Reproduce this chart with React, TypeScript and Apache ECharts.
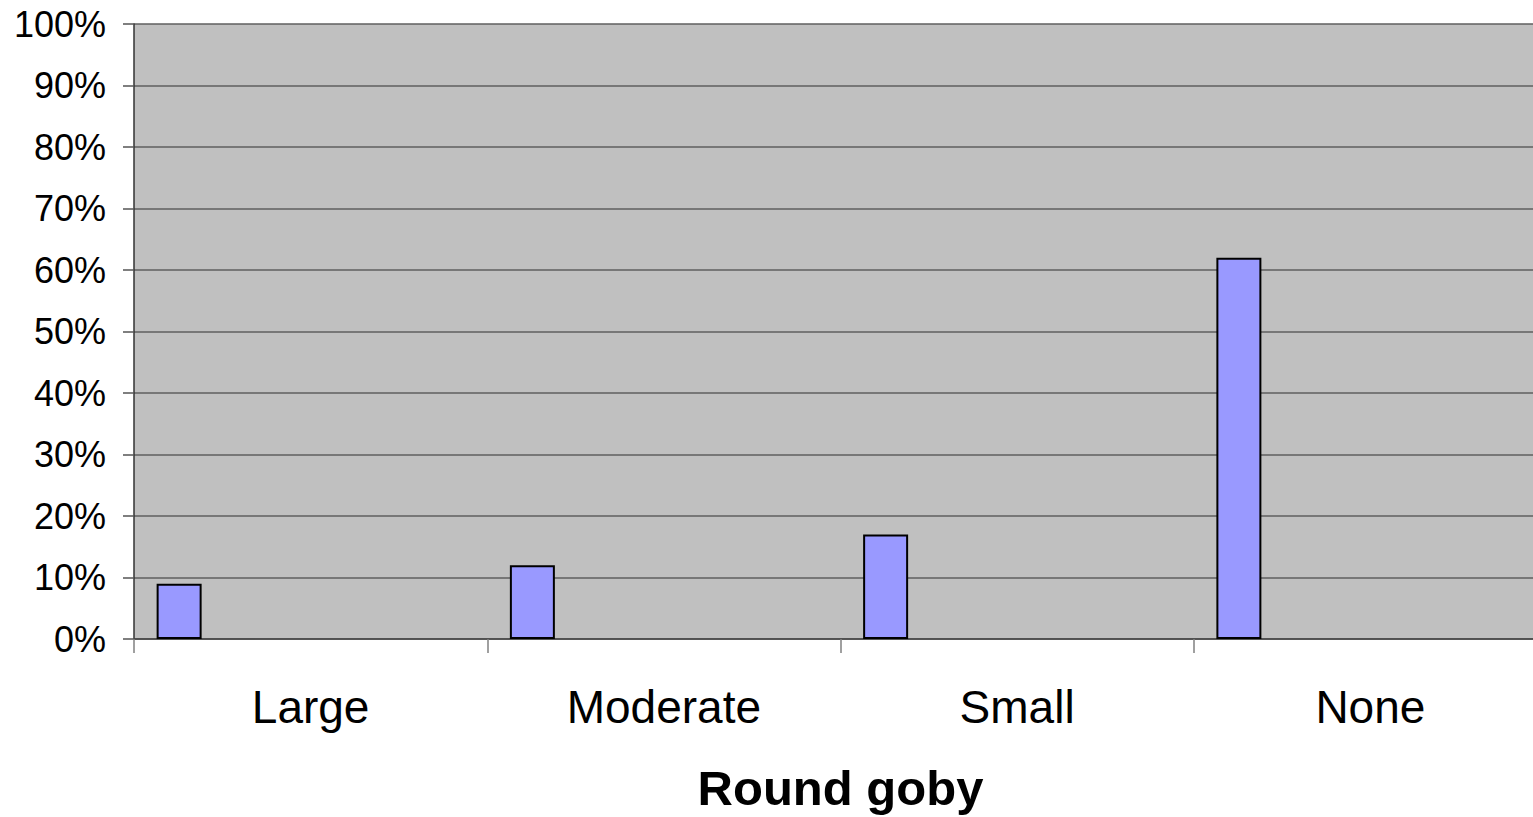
import React, { useEffect, useRef } from "react";
import * as echarts from "echarts";

const categories = ["Large", "Moderate", "Small", "None"];
const seriesValues = [9, 12, 17, 62];
const yTicks = [0, 10, 20, 30, 40, 50, 60, 70, 80, 90, 100];
const axisTitle = "Round goby";

export default function App() {
  const ref = useRef<HTMLDivElement>(null);
  useEffect(() => {
    if (!ref.current) return;
    const chart = echarts.init(ref.current, undefined, { renderer: "svg" });
    const font = "'Liberation Sans', Arial, sans-serif";
    chart.setOption({
      animation: false,
      backgroundColor: "#ffffff",
      grid: {
        left: 134,
        top: 24,
        width: 1413,
        height: 616,
        show: true,
        backgroundColor: "#c0c0c0",
        borderWidth: 0,
        containLabel: false,
      },
      xAxis: {
        type: "category",
        data: categories,
        boundaryGap: true,
        name: axisTitle,
        nameLocation: "middle",
        nameGap: 124,
        nameTextStyle: {
          fontFamily: font,
          fontSize: 49,
          fontWeight: "bold",
          color: "#000",
        },
        axisLine: { show: true, lineStyle: { color: "#444", width: 1.5 } },
        axisTick: { show: true, length: 14, lineStyle: { color: "#808080", width: 1.5 } },
        axisLabel: {
          margin: 45,
          fontFamily: font,
          fontSize: 46,
          color: "#000",
        },
        splitLine: { show: false },
      },
      yAxis: {
        type: "value",
        min: yTicks[0],
        max: yTicks[yTicks.length - 1],
        interval: yTicks[1] - yTicks[0],
        axisLine: { show: true, lineStyle: { color: "#333", width: 1.5 } },
        axisTick: { show: true, length: 11, lineStyle: { color: "#555", width: 1.5 } },
        axisLabel: {
          formatter: "{value}%",
          margin: 28,
          fontFamily: font,
          fontSize: 36,
          color: "#000",
        },
        splitLine: { show: true, lineStyle: { color: "#5f5f5f", width: 1.5 } },
      },
      series: [
        {
          type: "bar",
          name: axisTitle,
          data: seriesValues,
          barWidth: 45,
          barGap: "0%",
          itemStyle: { color: "#9999ff", borderColor: "#000", borderWidth: 2 },
        },
        {
          type: "bar",
          name: "",
          data: categories.map(() => null),
          barWidth: 263,
          barGap: "0%",
          itemStyle: { color: "transparent" },
        },
      ],
    });
    return () => chart.dispose();
  }, []);
  return (
    <div style={{ position: "fixed", left: 0, top: 0, width: 1533, height: 817, overflow: "hidden" }}>
      <div ref={ref} style={{ width: 1560, height: 817 }} />
    </div>
  );
}
